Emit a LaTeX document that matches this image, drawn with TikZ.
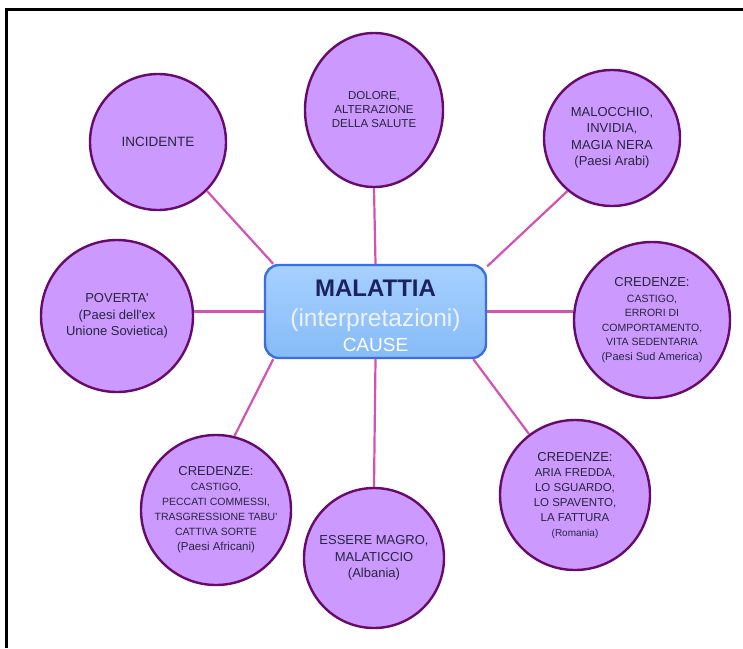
\documentclass[tikz,border=0pt]{standalone}
\usepackage{fontspec}
\setmainfont{Liberation Sans}
\usetikzlibrary{shapes.geometric}
\definecolor{cfill}{HTML}{CC99FF}
\definecolor{cdraw}{HTML}{680A6C}
\definecolor{linkc}{HTML}{D552B4}
\definecolor{boxtop}{HTML}{A6D0FF}
\definecolor{boxbot}{HTML}{86BBF7}
\definecolor{boxdraw}{HTML}{3B6FE0}
\definecolor{navy}{HTML}{1C2260}
\definecolor{ctext}{HTML}{26263C}
\definecolor{pale}{HTML}{EEF2FF}
\newcommand{\fs}[2]{\fontsize{#1}{#2}\selectfont}
\begin{document}
\begin{tikzpicture}[x=1pt,y=-1pt,
  bubble/.style={circle, fill=cfill, draw=cdraw, line width=2.4pt,
    minimum size=#1, inner sep=-40pt, align=center, text=ctext,
    font=\fs{13}{16.5}},
  oval/.style={ellipse, fill=cfill, draw=cdraw, line width=2.4pt,
    inner sep=0pt, align=center, text=ctext, font=\fs{11.5}{14}},
  centerbox/.style={rectangle, rounded corners=14pt, top color=boxtop,
    bottom color=boxbot, draw=boxdraw, line width=2.4pt,
    minimum width=221pt, minimum height=93pt, inner sep=0pt},
  linkst/.style={draw=linkc, line width=2.2pt},
  ttl/.style={inner sep=0pt, anchor=base},
]
\useasboundingbox (0,0) rectangle (743,648);
\fill[white] (0,0) rectangle (743,648);
\draw[line width=2.2pt] (6.5,648) -- (6.5,9.5) -- (743,9.5);

% central box
\node[centerbox] (box) at (375.5,311.5) {};
\node[ttl, font=\fs{24}{24}\bfseries, text=navy] (t1) at (375.5,296) {MALATTIA};
\node[ttl, font=\fs{24.5}{25}, text=pale] (t2) at (375.5,326) {(interpretazioni)};
\node[ttl, font=\fs{19}{19}, text=white] (t3) at (375.5,351) {CAUSE};

% bubbles
\node[oval, minimum width=138pt, minimum height=154pt] (dol) at (374,110)
  {DOLORE,\\ALTERAZIONE\\DELLA SALUTE};
\node[bubble=136pt, font=\fs{13.5}{16}] (inc) at (158,142) {INCIDENTE};
\node[bubble=136pt] (mal) at (612,138)
  {MALOCCHIO,\\INVIDIA,\\MAGIA NERA\\(Paesi Arabi)};
\node[bubble=152pt] (pov) at (117,316)
  {POVERTA\textquotesingle\\(Paesi dell\textquotesingle ex\\Unione Sovietica)};
\node[bubble=156pt, font=\fs{10.5}{14.5}] (sud) at (652,320)
  {\fs{13}{15}CREDENZE:\\[1pt]\fs{10.5}{14}CASTIGO,\\\fs{10.5}{14}ERRORI DI\\
   \fs{10.5}{14}COMPORTAMENTO,\\\fs{10.5}{14}VITA SEDENTARIA\\
   \fs{11}{13}(Paesi Sud America)};
\node[bubble=150pt, font=\fs{11.5}{15}] (rom) at (575,495)
  {\fs{13}{15}CREDENZE:\\\fs{11.5}{15}ARIA FREDDA,\\\fs{11.5}{15}LO SGUARDO,\\
   \fs{11.5}{15}LO SPAVENTO,\\\fs{11.5}{15}LA FATTURA\\\fs{10}{13}(Romania)};
\node[bubble=140pt] (alb) at (374,558)
  {ESSERE MAGRO,\\MALATICCIO\\(Albania)};
\node[bubble=150pt, font=\fs{10.5}{15}] (afr) at (216,510)
  {\fs{13}{15}CREDENZE:\\\fs{10.5}{15}CASTIGO,\\\fs{10.5}{15}PECCATI COMMESSI,\\
   \fs{10.5}{15}TRASGRESSIONE TABU\textquotesingle\\\fs{10.5}{15}CATTIVA SORTE\\
   \fs{11.5}{14}(Paesi Africani)};

% connectors
\draw[linkst] (box.north) -- (dol.south);
\draw[linkst] (box.155.5) -- (inc.-45.6);
\draw[linkst] (box.22.6) -- (mal.230);
\draw[linkst] (box.west) -- (pov.east |- box.west);
\draw[linkst] (box.east) -- (sud.west |- box.east);
\draw[linkst] (box.-26.2) -- (rom.127);
\draw[linkst] (box.south) -- (alb.north);
\draw[linkst] (box.205.5) -- (afr.76);
\end{tikzpicture}
\end{document}
